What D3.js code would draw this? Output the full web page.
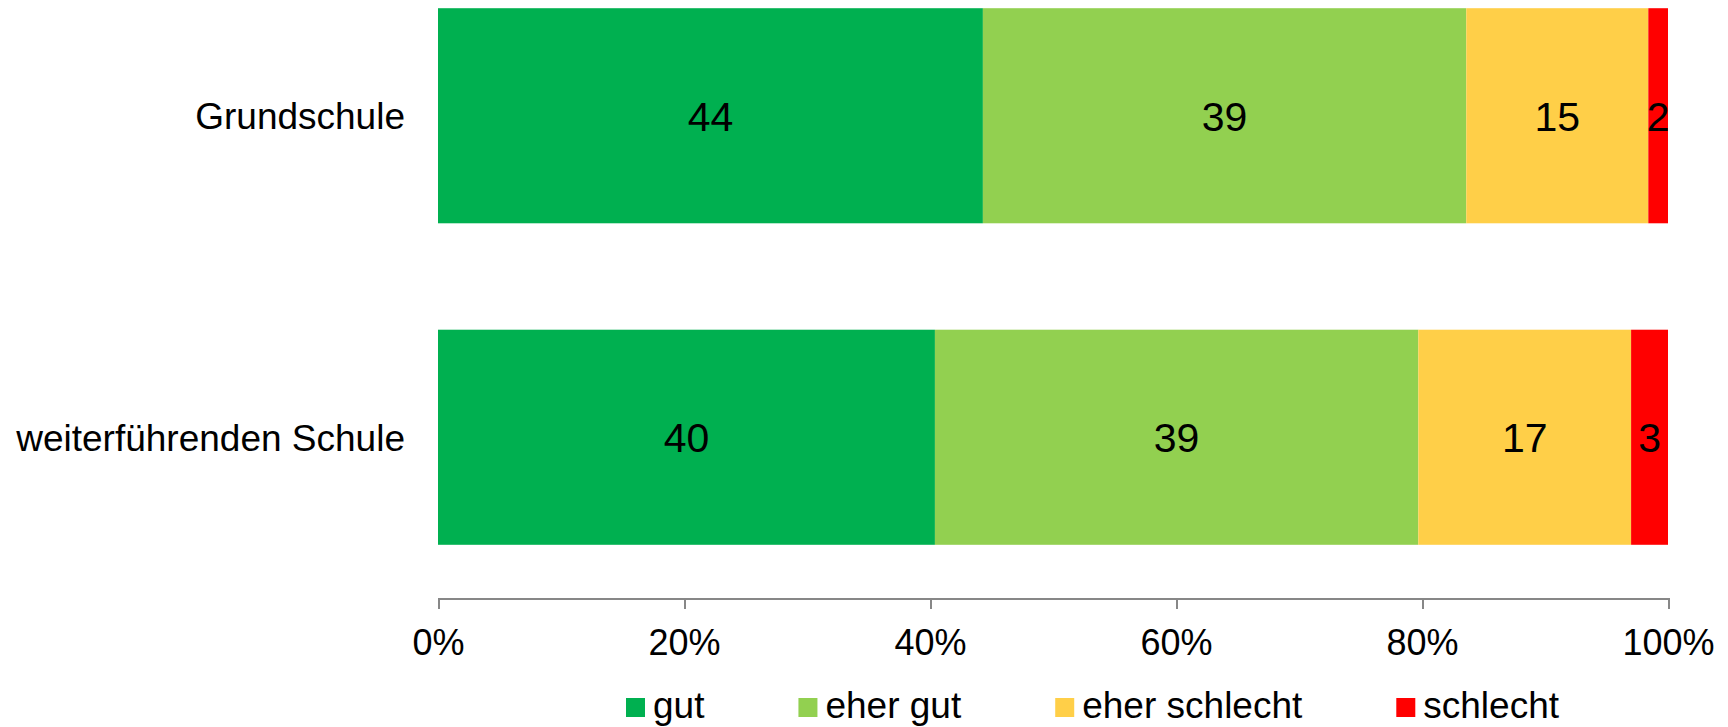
<!DOCTYPE html>
<meta charset="utf-8">
<head>
<style>
  body { margin: 0; background: #fff; }
  svg { display: block; font-family: "Liberation Sans", Arial, sans-serif; }
  .axis path, .axis line { stroke: #878787; stroke-width: 2; shape-rendering: crispEdges; }
</style>
</head>
<body>
<script src="https://d3js.org/d3.v7.min.js"></script>
<script>

// data (percent)
var categories = ["Grundschule", "weiterführenden Schule"];
var seriesNames = ["gut", "eher gut", "eher schlecht", "schlecht"];
var gut = [44.3, 40.4];
var eherGut = [39.3, 39.3];
var eherSchlecht = [14.8, 17.3];
var schlecht = [1.6, 3.0];
var tickValues = [0, 20, 40, 60, 80, 100];
var colors = ["#00b050", "#92d050", "#ffcf48", "#ff0000"];

var width = 1728, height = 727;

var table = categories.map(function(c, i) {
  return { cat: c, "gut": gut[i], "eher gut": eherGut[i], "eher schlecht": eherSchlecht[i], "schlecht": schlecht[i] };
});

var x = d3.scaleLinear().domain([0, 100]).range([438, 1668]);
var y = d3.scaleBand()
    .domain(categories)
    .range([-45, 598])
    .paddingInner(0.331)
    .paddingOuter(0.1655);
var color = d3.scaleOrdinal().domain(seriesNames).range(colors);

var svg = d3.select("body").append("svg")
    .attr("width", width)
    .attr("height", height);

var stacked = d3.stack().keys(seriesNames)(table);

var layers = svg.selectAll(".layer")
    .data(stacked)
    .enter().append("g")
    .attr("class", "layer")
    .attr("fill", function(d) { return color(d.key); });

layers.selectAll("rect")
    .data(function(d) { return d; })
    .enter().append("rect")
    .attr("x", function(d) { return x(d[0]); })
    .attr("y", function(d) { return y(d.data.cat); })
    .attr("width", function(d) { return x(d[1]) - x(d[0]); })
    .attr("height", y.bandwidth());

// value labels
layers.selectAll("text")
    .data(function(d) { return d; })
    .enter().append("text")
    .attr("x", function(d) { return (x(d[0]) + x(d[1])) / 2; })
    .attr("y", function(d) { return y(d.data.cat) + y.bandwidth() / 2; })
    .attr("dy", "0.36em")
    .attr("text-anchor", "middle")
    .attr("font-size", "41px")
    .attr("fill", "#000")
    .text(function(d) { return d3.format(".0f")(d[1] - d[0]); });

// category labels
svg.selectAll(".cat")
    .data(categories)
    .enter().append("text")
    .attr("class", "cat")
    .attr("x", 405)
    .attr("y", function(d) { return y(d) + y.bandwidth() / 2; })
    .attr("dy", "0.36em")
    .attr("text-anchor", "end")
    .attr("font-size", "37px")
    .text(function(d) { return d; });

// x axis
var xAxis = d3.axisBottom(x)
    .tickValues(tickValues)
    .tickFormat(function(d) { return d + "%"; })
    .tickSizeInner(11)
    .tickSizeOuter(0);

var gx = svg.append("g")
    .attr("class", "axis")
    .attr("transform", "translate(0,598)")
    .call(xAxis);

gx.selectAll("text")
    .attr("y", 57)
    .attr("dy", null)
    .attr("font-size", "36px")
    .attr("font-family", "Liberation Sans, Arial, sans-serif")
    .attr("fill", "#000");

// legend
var legend = svg.append("g").attr("class", "legend");
var lx = 626;
seriesNames.forEach(function(name) {
  legend.append("rect")
      .attr("x", lx)
      .attr("y", 698)
      .attr("width", 19)
      .attr("height", 19)
      .attr("fill", color(name));
  var t = legend.append("text")
      .attr("x", lx + 27)
      .attr("y", 718)
      .attr("font-size", "37px")
      .text(name);
  lx += 27 + t.node().getComputedTextLength() + 94;
});

</script>
</body>
